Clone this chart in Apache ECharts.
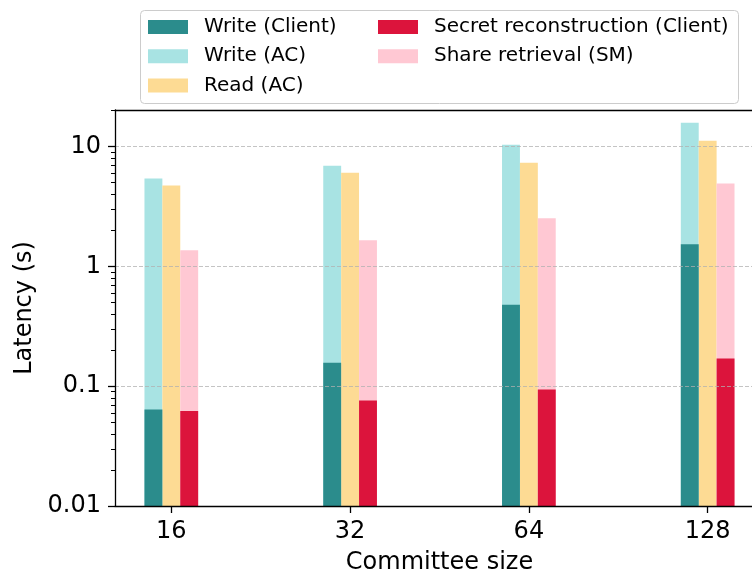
<!DOCTYPE html>
<html>
<head>
<meta charset="utf-8">
<script src="https://cdn.jsdelivr.net/npm/echarts@6/dist/echarts.min.js"></script>
<style>
  html, body { margin: 0; padding: 0; background: #fff; }
  #chart { width: 752px; height: 580px; }
</style>
</head>
<body>
<div id="chart"></div>
<script>
// Committee sizes on the x axis
const committeeSizes = ['16', '32', '64', '128'];

// Latency in seconds. Client-side parts are drawn in front of the
// taller server-side bars that share their slot.
const writeClient = [0.064, 0.157, 0.478, 1.53];
const writeAC = [5.41, 6.93, 10.35, 15.8];
const readAC = [4.73, 6.06, 7.34, 11.2];
const secretReconstruction = [0.062, 0.076, 0.094, 0.170];
const shareRetrieval = [1.365, 1.65, 2.52, 4.91];

// Log-axis tick labels
const yMajorTicks = [0.01, 0.1, 1, 10];

const FONT = 'DejaVu Sans';
const Y_MIN = 0.01;
const Y_MAX = 20.2;
const X_MIN = -0.315;
const X_MAX = 3.248;

// Minor ticks at 2..9 within each decade
const yMinorTicks = [];
for (let p = -2; p <= 1; p++) {
  for (let m = 2; m <= 9; m++) {
    const v = +(m * Math.pow(10, p)).toPrecision(3);
    if (v < Y_MAX) yMinorTicks.push(v);
  }
}

const colors = {
  writeClient: '#2b8c8c',
  writeAC: '#a8e3e3',
  readAC: '#fddb94',
  secret: '#dc143c',
  share: '#ffc8d3'
};

function pairs(values) {
  return values.map((v, i) => [i, v]);
}

const BAR_W = 17.9;

function bar(name, values, color, xAxisIndex) {
  return {
    name, type: 'bar', xAxisIndex, yAxisIndex: 0,
    barWidth: BAR_W, barGap: '0%',
    itemStyle: { color },
    data: values ? pairs(values) : []
  };
}

const chart = echarts.init(document.getElementById('chart'), null, { renderer: 'canvas' });

const legendText = { fontFamily: FONT, fontSize: 20, color: '#000', lineHeight: 20, padding: [0, 0, 0, 11] };

const hiddenX = {
  type: 'value', position: 'bottom', min: X_MIN, max: X_MAX, show: false,
  axisLine: { onZero: false }
};

chart.setOption({
  animation: false,
  backgroundColor: '#fff',
  textStyle: { fontFamily: FONT },
  grid: { left: 115, right: 0, top: 110, bottom: 71, containLabel: false },
  graphic: [{
    type: 'rect',
    left: 140, top: 10,
    shape: { width: 598, height: 93, r: 4 },
    style: { fill: 'rgba(255,255,255,0.8)', stroke: '#cccccc', lineWidth: 1 },
    z: 1
  }],
  legend: [{
    orient: 'vertical', left: 148, top: 17, padding: 0, itemGap: 9.2,
    itemWidth: 40, itemHeight: 14, icon: 'rect', selectedMode: false,
    textStyle: legendText,
    data: ['Write (Client)', 'Write (AC)', 'Read (AC)'],
    z: 5
  }, {
    orient: 'vertical', left: 378, top: 17, padding: 0, itemGap: 9.2,
    itemWidth: 40, itemHeight: 14, icon: 'rect', selectedMode: false,
    textStyle: legendText,
    data: ['Secret reconstruction (Client)', 'Share retrieval (SM)'],
    z: 5
  }],
  xAxis: [{
    type: 'value', position: 'bottom', min: X_MIN, max: X_MAX,
    name: 'Committee size', nameLocation: 'middle', nameGap: 45,
    nameTextStyle: { fontFamily: FONT, fontSize: 24, color: '#000', padding: [0, 0, 0, 12] },
    axisLine: { show: true, onZero: false, lineStyle: { color: '#000', width: 1.3 } },
    axisTick: { show: true, customValues: [0, 1, 2, 3], length: 7, lineStyle: { color: '#000', width: 1.3 } },
    axisLabel: {
      show: true, customValues: [0, 1, 2, 3], margin: 14,
      fontFamily: FONT, fontSize: 24, color: '#000',
      formatter: v => committeeSizes[Math.round(v)]
    },
    splitLine: { show: false },
    z: 4
  }, {
    type: 'value', position: 'top', min: X_MIN, max: X_MAX,
    axisLine: { show: true, onZero: false, lineStyle: { color: '#000', width: 1.3 } },
    axisTick: { show: false }, axisLabel: { show: false }, splitLine: { show: false },
    z: 4
  }, hiddenX],
  yAxis: [{
    type: 'log', logBase: 10, position: 'left', min: Y_MIN, max: Y_MAX, startValue: Y_MIN,
    name: 'Latency (s)', nameLocation: 'middle', nameGap: 65,
    nameTextStyle: { fontFamily: FONT, fontSize: 24, color: '#000' },
    axisLine: { show: true, onZero: false, lineStyle: { color: '#000', width: 1.3 } },
    axisTick: { show: true, customValues: yMajorTicks, length: 7, lineStyle: { color: '#000', width: 1.3 } },
    axisLabel: {
      show: true, customValues: yMajorTicks, margin: 14,
      fontFamily: FONT, fontSize: 24, color: '#000',
      formatter: v => String(+Number(v).toPrecision(3))
    },
    splitLine: {
      show: true, showMinLine: false, showMaxLine: true,
      lineStyle: { color: 'rgba(176,176,176,0.75)', width: 1, type: [4, 2] }
    },
    z: 3
  }, {
    type: 'log', logBase: 10, position: 'left', min: Y_MIN, max: Y_MAX,
    axisLine: { show: false, onZero: false },
    axisTick: { show: true, customValues: yMinorTicks, length: 4, lineStyle: { color: '#000', width: 1 } },
    axisLabel: { show: false },
    splitLine: { show: false },
    z: 3
  }],
  series: [
    // back row: one slot per bar group
    bar('Write (AC)', writeAC, colors.writeAC, 0),
    bar('Read (AC)', readAC, colors.readAC, 0),
    bar('Share retrieval (SM)', shareRetrieval, colors.share, 0),
    // front row on a matching hidden axis: same slots, middle one empty
    bar('Write (Client)', writeClient, colors.writeClient, 2),
    bar('', null, colors.readAC, 2),
    bar('Secret reconstruction (Client)', secretReconstruction, colors.secret, 2)
  ]
});
</script>
</body>
</html>
